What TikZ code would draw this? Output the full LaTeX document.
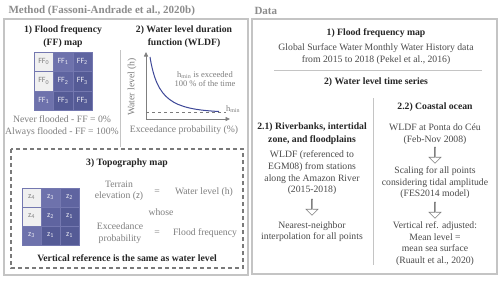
\documentclass[tikz,border=0pt]{standalone}
\usepackage{fontspec}
\setmainfont{Liberation Serif}[BoldFont={Liberation Serif Bold}]
\setsansfont{Carlito}
\usetikzlibrary{arrows.meta,shapes.arrows}
\definecolor{ink}{HTML}{262626}
\definecolor{body}{HTML}{4A4A4A}
\definecolor{muted}{HTML}{7F7F7F}
\definecolor{heading}{HTML}{8C8C8C}
\definecolor{frame}{HTML}{C4C4C4}
\definecolor{dashline}{HTML}{7A7A7A}
\definecolor{curveblue}{HTML}{3E4898}
\definecolor{level0}{HTML}{F0F0F0}
\definecolor{level1}{HTML}{6E72AC}
\definecolor{level2}{HTML}{5F64A0}
\definecolor{level3}{HTML}{555B96}
\definecolor{celltext}{HTML}{ECECF4}
\definecolor{cellline}{HTML}{7478B0}

\begin{document}
\begin{tikzpicture}[x=1pt,y=-1pt,
  title/.style={text=heading,anchor=west,font=\fontsize{11}{13}\selectfont\bfseries},
  head/.style={text=ink,align=center,font=\fontsize{9.7}{12.5}\selectfont\bfseries},
  body/.style={text=body,align=center,font=\fontsize{9.7}{11.6}\selectfont},
  note/.style={text=muted,align=center,font=\fontsize{9.7}{11.6}\selectfont},
  small/.style={text=muted,align=center,font=\fontsize{8.5}{9.5}\selectfont},
  cell/.style={minimum size=19.3pt,inner sep=0pt,text=celltext,
    draw=cellline,line width=0.15pt,font=\sffamily\fontsize{8}{9}\selectfont},
  lv0/.style={cell,fill=level0,text=muted},
  lv1/.style={cell,fill=level1},
  lv2/.style={cell,fill=level2},
  lv3/.style={cell,fill=level3},
  panel/.style={draw=frame,line width=1.5pt},
  divider/.style={draw=frame,line width=0.6pt},
  dashbox/.style={draw=dashline,line width=1.1pt,dash pattern=on 4pt off 3pt},
  axis/.style={draw=muted,line width=0.8pt,-{Triangle[length=4.5pt,width=4pt]}},
  hollow/.style={single arrow,draw=muted,fill=white,line width=0.6pt,
    shape border rotate=270,minimum height=16pt,minimum width=12pt,
    single arrow head extend=3pt,inner sep=0pt}
]
\fill[white] (0,0) rectangle (500,281);
\useasboundingbox (0,0) rectangle (500,281);

% method side
\node[title] (methodtitle) at (5,11) {Method (Fassoni-Andrade et al., 2020b)};
\draw[panel] (4,19) rectangle (248,275);
\draw[divider] (120,50) -- (120,147);

\node[head] (ffhead) at (63,36.5) {1) Flood frequency\\(FF) map};
\node[lv0] (ffa) at (43.7,61.7) {FF\textsubscript{0}};
\node[lv1] (ffb) at (63,61.7) {FF\textsubscript{1}};
\node[lv2] (ffc) at (82.3,61.7) {FF\textsubscript{2}};
\node[lv0] (ffd) at (43.7,81) {FF\textsubscript{0}};
\node[lv2] (ffe) at (63,81) {FF\textsubscript{2}};
\node[lv3] (fff) at (82.3,81) {FF\textsubscript{3}};
\node[lv1] (ffg) at (43.7,100.3) {FF\textsubscript{1}};
\node[lv3] (ffh) at (63,100.3) {FF\textsubscript{3}};
\node[lv3] (ffi) at (82.3,100.3) {FF\textsubscript{3}};
\node[note] (ffnote) at (62,126)
  {Never flooded - FF = 0\%\\Always flooded - FF = 100\%};

\node[head] (wldfhead) at (184,36.5) {2) Water level duration\\function (WLDF)};
\coordinate (origin) at (146,119);
\coordinate (ytop) at (146,52);
\coordinate (xend) at (230,119);
\draw[axis] (origin) -- (ytop);
\draw[axis] (origin) -- (xend);
\draw[dashline,dashed,line width=0.7pt] (146,112) -- (226,112);
\draw[curveblue,line width=1pt] (150,57) .. controls (157,100) and (172,109) .. (219,111.5);
\node[note,rotate=90] (ylabel) at (132,87) {Water level (h)};
\node[small] (hmin) at (233,109) {h\textsubscript{min}};
\node[small] (exceeded) at (205,79) {h\textsubscript{min} is exceeded\\100 \% of the time};
\node[note] (xlabel) at (184,130) {Exceedance probability (\%)};

\draw[dashbox] (11,149) rectangle (243,268);
\node[head] (topohead) at (127,163) {3) Topography map};
\node[lv0] (za) at (31.5,197.5) {z\textsubscript{4}};
\node[lv1] (zb) at (50.5,197.5) {z\textsubscript{3}};
\node[lv2] (zc) at (69.5,197.5) {z\textsubscript{2}};
\node[lv0] (zd) at (31.5,216.5) {z\textsubscript{4}};
\node[lv2] (ze) at (50.5,216.5) {z\textsubscript{2}};
\node[lv3] (zf) at (69.5,216.5) {z\textsubscript{1}};
\node[lv1] (zg) at (31.5,235.5) {z\textsubscript{3}};
\node[lv3] (zh) at (50.5,235.5) {z\textsubscript{1}};
\node[lv3] (zi) at (69.5,235.5) {z\textsubscript{1}};
\node[note] (terrain) at (119,191) {Terrain\\elevation (\textsf{z})};
\node[note] (eqone) at (157,192) {=};
\node[note] (waterlevel) at (204,192) {Water level (h)};
\node[note] (whose) at (161,212) {whose};
\node[note] (exceedance) at (120,233) {Exceedance\\probability};
\node[note] (eqtwo) at (157,233) {=};
\node[note] (floodfreq) at (205,233) {Flood frequency};
\node[head] (vertref) at (127,258) {Vertical reference is the same as water level};

% data side
\node[title] (datatitle) at (251,11) {Data};
\draw[panel] (252,19) rectangle (497,274);

\node[head] (ffmap) at (376,33) {1) Flood frequency map};
\node[body] (gsw) at (376,54)
  {Global Surface Water Monthly Water History data\\from 2015 to 2018 (Pekel et al., 2016)};
\draw[divider] (274,70) -- (482,70);
\node[head] (series) at (376,82) {2) Water level time series};
\draw[divider] (373,98) -- (373,265);

\node[head] (river) at (312,133.5) {2.1) Riverbanks, intertidal\\zone, and floodplains};
\node[body] (stations) at (312,173)
  {WLDF (referenced to\\EGM08) from stations\\along the Amazon River\\(2015-2018)};
\node[hollow] (riverdown) at (312,207) {};
\node[body] (nearest) at (312,231.5) {Nearest-neighbor\\interpolation for all points};

\node[head] (coastal) at (435,107) {2.2) Coastal ocean};
\node[body] (ponta) at (435,134) {WLDF at Ponta do Céu\\(Feb-Nov 2008)};
\node[hollow] (coastdown) at (435,155) {};
\node[body] (scaling) at (435,183)
  {Scaling for all points\\considering tidal amplitude\\(FES2014 model)};
\node[hollow] (scaledown) at (435,210) {};
\node[body] (adjusted) at (435,243.5)
  {Vertical ref. adjusted:\\Mean level =\\mean sea surface\\(Ruault et al., 2020)};
\end{tikzpicture}
\end{document}
